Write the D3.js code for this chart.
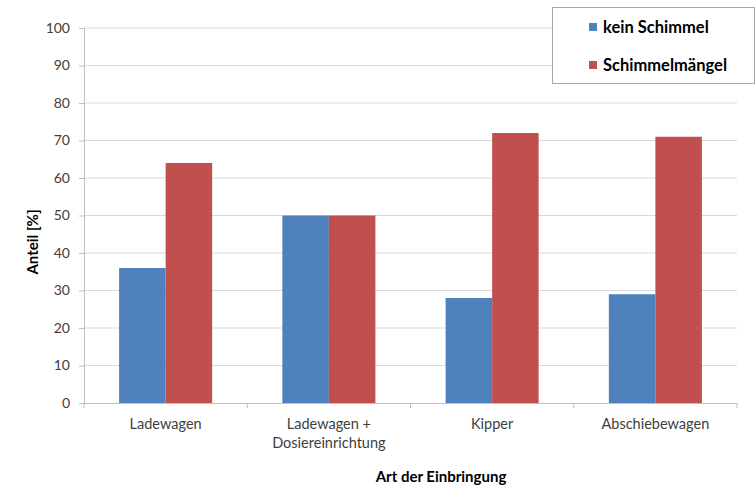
<!DOCTYPE html>
<html><head><meta charset="utf-8">
<script src="https://cdn.jsdelivr.net/npm/d3@7"></script>
<style>body{margin:0;background:#fff}svg{display:block;font-family:Lato,"Open Sans",sans-serif}</style>
</head><body><svg id="c" width="756" height="488"></svg>
<script>
const categories = [["Ladewagen"], ["Ladewagen +", "Dosiereinrichtung"], ["Kipper"], ["Abschiebewagen"]];
const seriesNames = ["kein Schimmel", "Schimmelmängel"];
const keinSchimmel = [36, 50, 28, 29];
const schimmelmaengel = [64, 50, 72, 71];
const yTicks = [0, 10, 20, 30, 40, 50, 60, 70, 80, 90, 100];
const colors = ["#4f81bd", "#c0504d"];

const svg = d3.select("#c");
const L = 84, R = 737, T = 28, B = 403;
const x0 = d3.scaleBand().domain(d3.range(categories.length)).range([L, R]).padding(0);
const bw = x0.bandwidth();
const x1 = d3.scaleBand().domain(d3.range(2)).range([bw * 0.215, bw * 0.785]).padding(0);
const y = d3.scaleLinear().domain([0, 100]).range([B, T]);

// gridlines
svg.append("g").selectAll("line").data(yTicks.filter(d => d > 0)).join("line")
  .attr("x1", L).attr("x2", R).attr("y1", d => y(d)).attr("y2", d => y(d))
  .attr("stroke", "#d9d9d9").attr("stroke-width", 1);

// y axis
const ya = svg.append("g").attr("transform", `translate(${L},0)`)
  .call(d3.axisLeft(y).tickValues(yTicks).tickSize(5).tickPadding(9));
ya.select(".domain").attr("stroke", "#bfbfbf");
ya.selectAll(".tick line").attr("stroke", "#bfbfbf");
ya.selectAll("text").attr("font-size", 14).attr("fill", "#404040").attr("font-family", "Lato,sans-serif");

// bars
const data = [keinSchimmel, schimmelmaengel];
categories.forEach((c, i) => {
  data.forEach((s, j) => {
    svg.append("rect")
      .attr("x", x0(i) + x1(j)).attr("width", x1.bandwidth())
      .attr("y", y(s[i])).attr("height", y(0) - y(s[i]))
      .attr("fill", colors[j]);
  });
});

// x axis
svg.append("line").attr("x1", L).attr("x2", R).attr("y1", B + 0.5).attr("y2", B + 0.5).attr("stroke", "#bfbfbf");
svg.append("g").selectAll("line").data(d3.range(categories.length + 1)).join("line")
  .attr("x1", d => L + d * bw).attr("x2", d => L + d * bw)
  .attr("y1", B).attr("y2", B + 5).attr("stroke", "#bfbfbf");
categories.forEach((c, i) => {
  const t = svg.append("text").attr("text-anchor", "middle").attr("font-size", 14.5).attr("fill", "#404040");
  c.forEach((line, k) => {
    t.append("tspan").attr("x", x0(i) + bw / 2).attr("y", 429 + k * 19).text(line);
  });
});

// axis titles
svg.append("text").attr("x", 441).attr("y", 482).attr("text-anchor", "middle")
  .attr("font-size", 15).attr("font-weight", "bold").attr("fill", "#000").text("Art der Einbringung");
svg.append("text").attr("transform", "translate(38,242) rotate(-90)").attr("text-anchor", "middle")
  .attr("font-size", 15).attr("font-weight", "bold").attr("fill", "#000").text("Anteil [%]");

// legend
const lg = svg.append("g");
lg.append("rect").attr("x", 552.5).attr("y", 7.5).attr("width", 202).attr("height", 76)
  .attr("fill", "#fff").attr("stroke", "#a6a6a6");
seriesNames.forEach((n, j) => {
  const cy = 27 + j * 38;
  lg.append("rect").attr("x", 589).attr("y", cy - 4).attr("width", 8).attr("height", 8).attr("fill", colors[j]);
  lg.append("text").attr("x", 603).attr("y", cy + 6).attr("font-size", 16.5).attr("font-weight", "bold")
    .attr("fill", "#000").text(n);
});
</script></body></html>
